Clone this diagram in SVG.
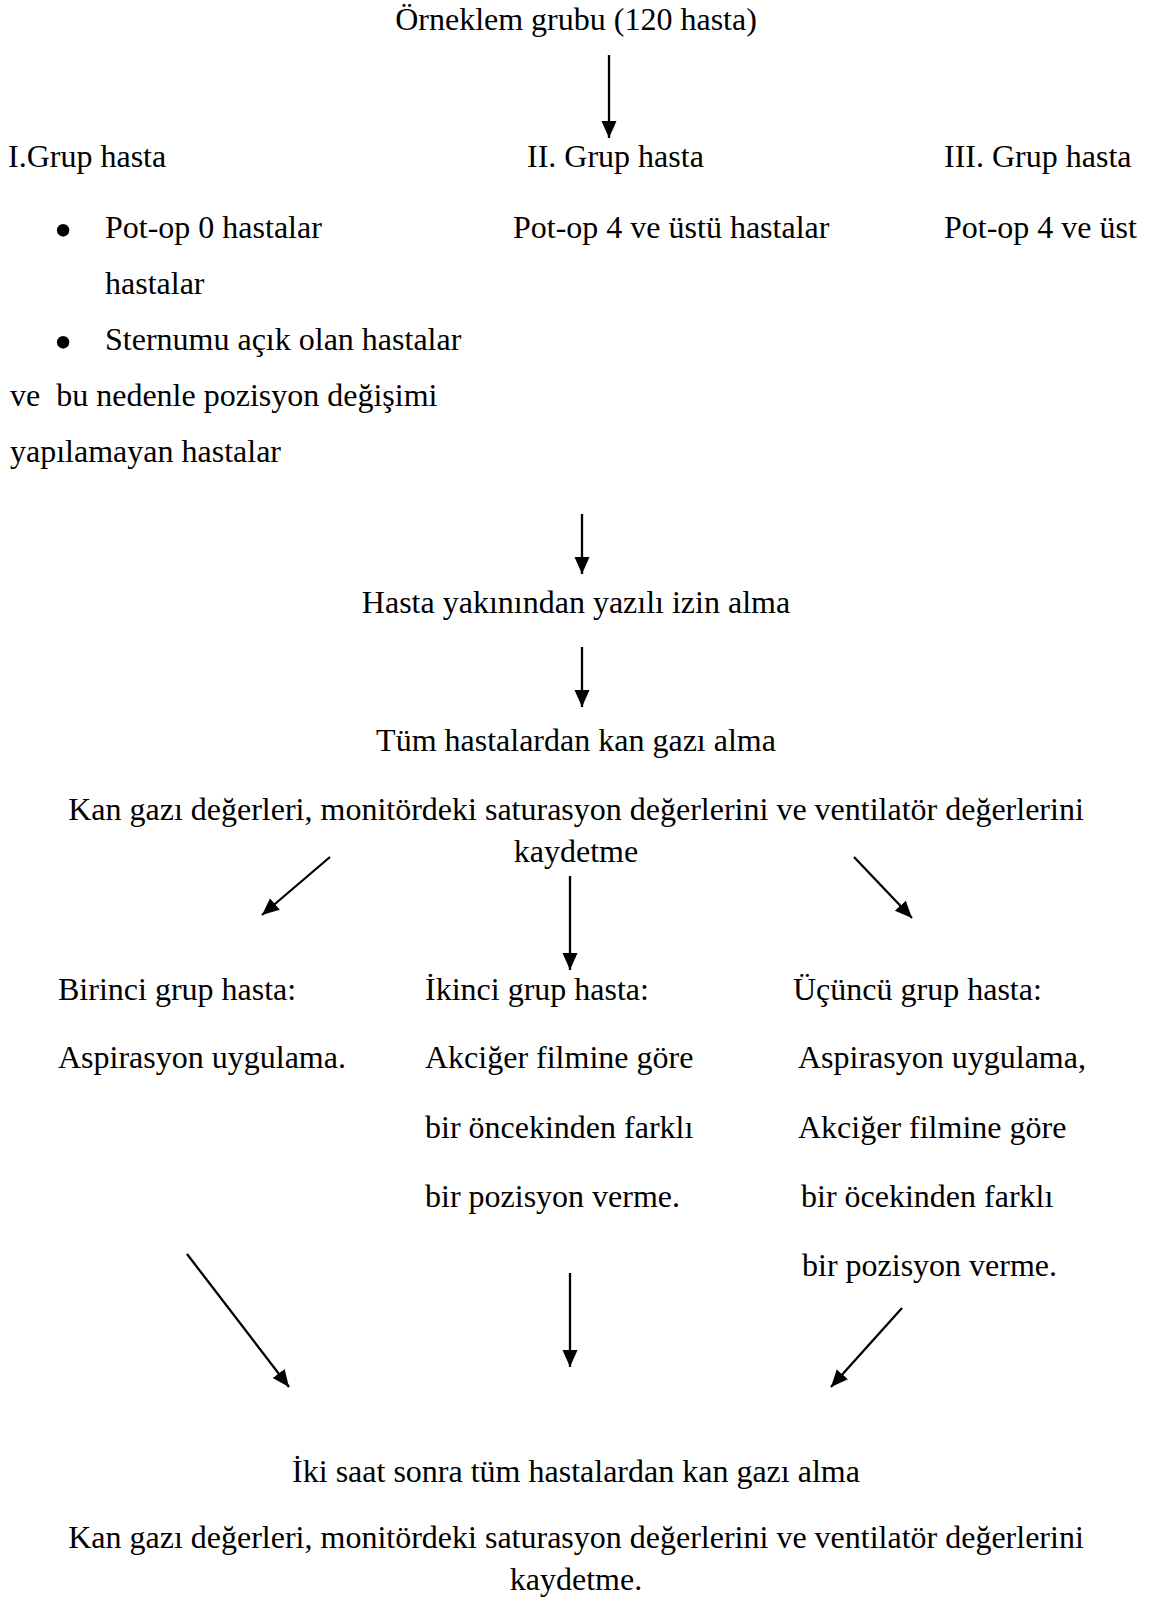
<svg xmlns="http://www.w3.org/2000/svg" width="1162" height="1603" viewBox="0 0 1162 1603">
<style>
text{font-family:"Liberation Serif","Times New Roman",serif;font-size:32px;fill:#000}
.c{text-anchor:middle}
.b{font-size:52px;text-anchor:middle}
.conn line{stroke:#000;stroke-width:2.3;fill:none;marker-end:url(#ah)}
</style>
<defs>
<marker id="ah" markerUnits="userSpaceOnUse" markerWidth="18" markerHeight="16" refX="17" refY="7.5" orient="auto" viewBox="0 0 18 16">
<path d="M0,0 L17,7.5 L0,15 z" fill="#000"/>
</marker>
</defs>
<rect width="1162" height="1603" fill="#fff"/>
<g id="n-orneklem"><text class="c" x="576" y="30">Örneklem grubu (120 hasta)</text></g>
<g id="n-grup1">
<text x="8" y="167">I.Grup hasta</text>
<text class="b" x="63" y="248">•</text>
<text x="105" y="238">Pot-op 0 hastalar</text>
<text x="105" y="294">hastalar</text>
<text class="b" x="63" y="360">•</text>
<text x="105" y="350">Sternumu açık olan hastalar</text>
<text x="10" y="406" xml:space="preserve">ve  bu nedenle pozisyon değişimi</text>
<text x="10" y="462">yapılamayan hastalar</text>
</g>
<g id="n-grup2">
<text x="527" y="167">II. Grup hasta</text>
<text x="513" y="238">Pot-op 4 ve üstü hastalar</text>
</g>
<g id="n-grup3">
<text x="944" y="167">III. Grup hasta</text>
<text x="944" y="238">Pot-op 4 ve üst</text>
</g>
<g id="n-izin"><text class="c" x="576" y="613">Hasta yakınından yazılı izin alma</text></g>
<g id="n-kangazi1">
<text class="c" x="576" y="751">Tüm hastalardan kan gazı alma</text>
<text class="c" x="576" y="820">Kan gazı değerleri, monitördeki saturasyon değerlerini ve ventilatör değerlerini</text>
<text class="c" x="576" y="862">kaydetme</text>
</g>
<g id="n-birinci">
<text x="58" y="1000">Birinci grup hasta:</text>
<text x="58" y="1068">Aspirasyon uygulama.</text>
</g>
<g id="n-ikinci">
<text x="425" y="1000">İkinci grup hasta:</text>
<text x="425" y="1068">Akciğer filmine göre</text>
<text x="425" y="1138">bir öncekinden farklı</text>
<text x="425" y="1207">bir pozisyon verme.</text>
</g>
<g id="n-ucuncu">
<text x="793" y="1000">Üçüncü grup hasta:</text>
<text x="798" y="1068">Aspirasyon uygulama,</text>
<text x="798" y="1138">Akciğer filmine göre</text>
<text x="801" y="1207">bir öcekinden farklı</text>
<text x="802" y="1276">bir pozisyon verme.</text>
</g>
<g id="n-kangazi2">
<text class="c" x="576" y="1482">İki saat sonra tüm hastalardan kan gazı alma</text>
<text class="c" x="576" y="1548">Kan gazı değerleri, monitördeki saturasyon değerlerini ve ventilatör değerlerini</text>
<text class="c" x="576" y="1590">kaydetme.</text>
</g>
<g id="connectors" class="conn">
<line x1="609" y1="55" x2="609" y2="138"/>
<line x1="582" y1="514" x2="582" y2="574"/>
<line x1="582" y1="647" x2="582" y2="707"/>
<line x1="330" y1="857" x2="262" y2="915"/>
<line x1="570" y1="876" x2="570" y2="970"/>
<line x1="854" y1="857" x2="912" y2="918"/>
<line x1="187" y1="1254" x2="289" y2="1387"/>
<line x1="570" y1="1273" x2="570" y2="1367"/>
<line x1="902" y1="1308" x2="831" y2="1387"/>
</g>
</svg>
